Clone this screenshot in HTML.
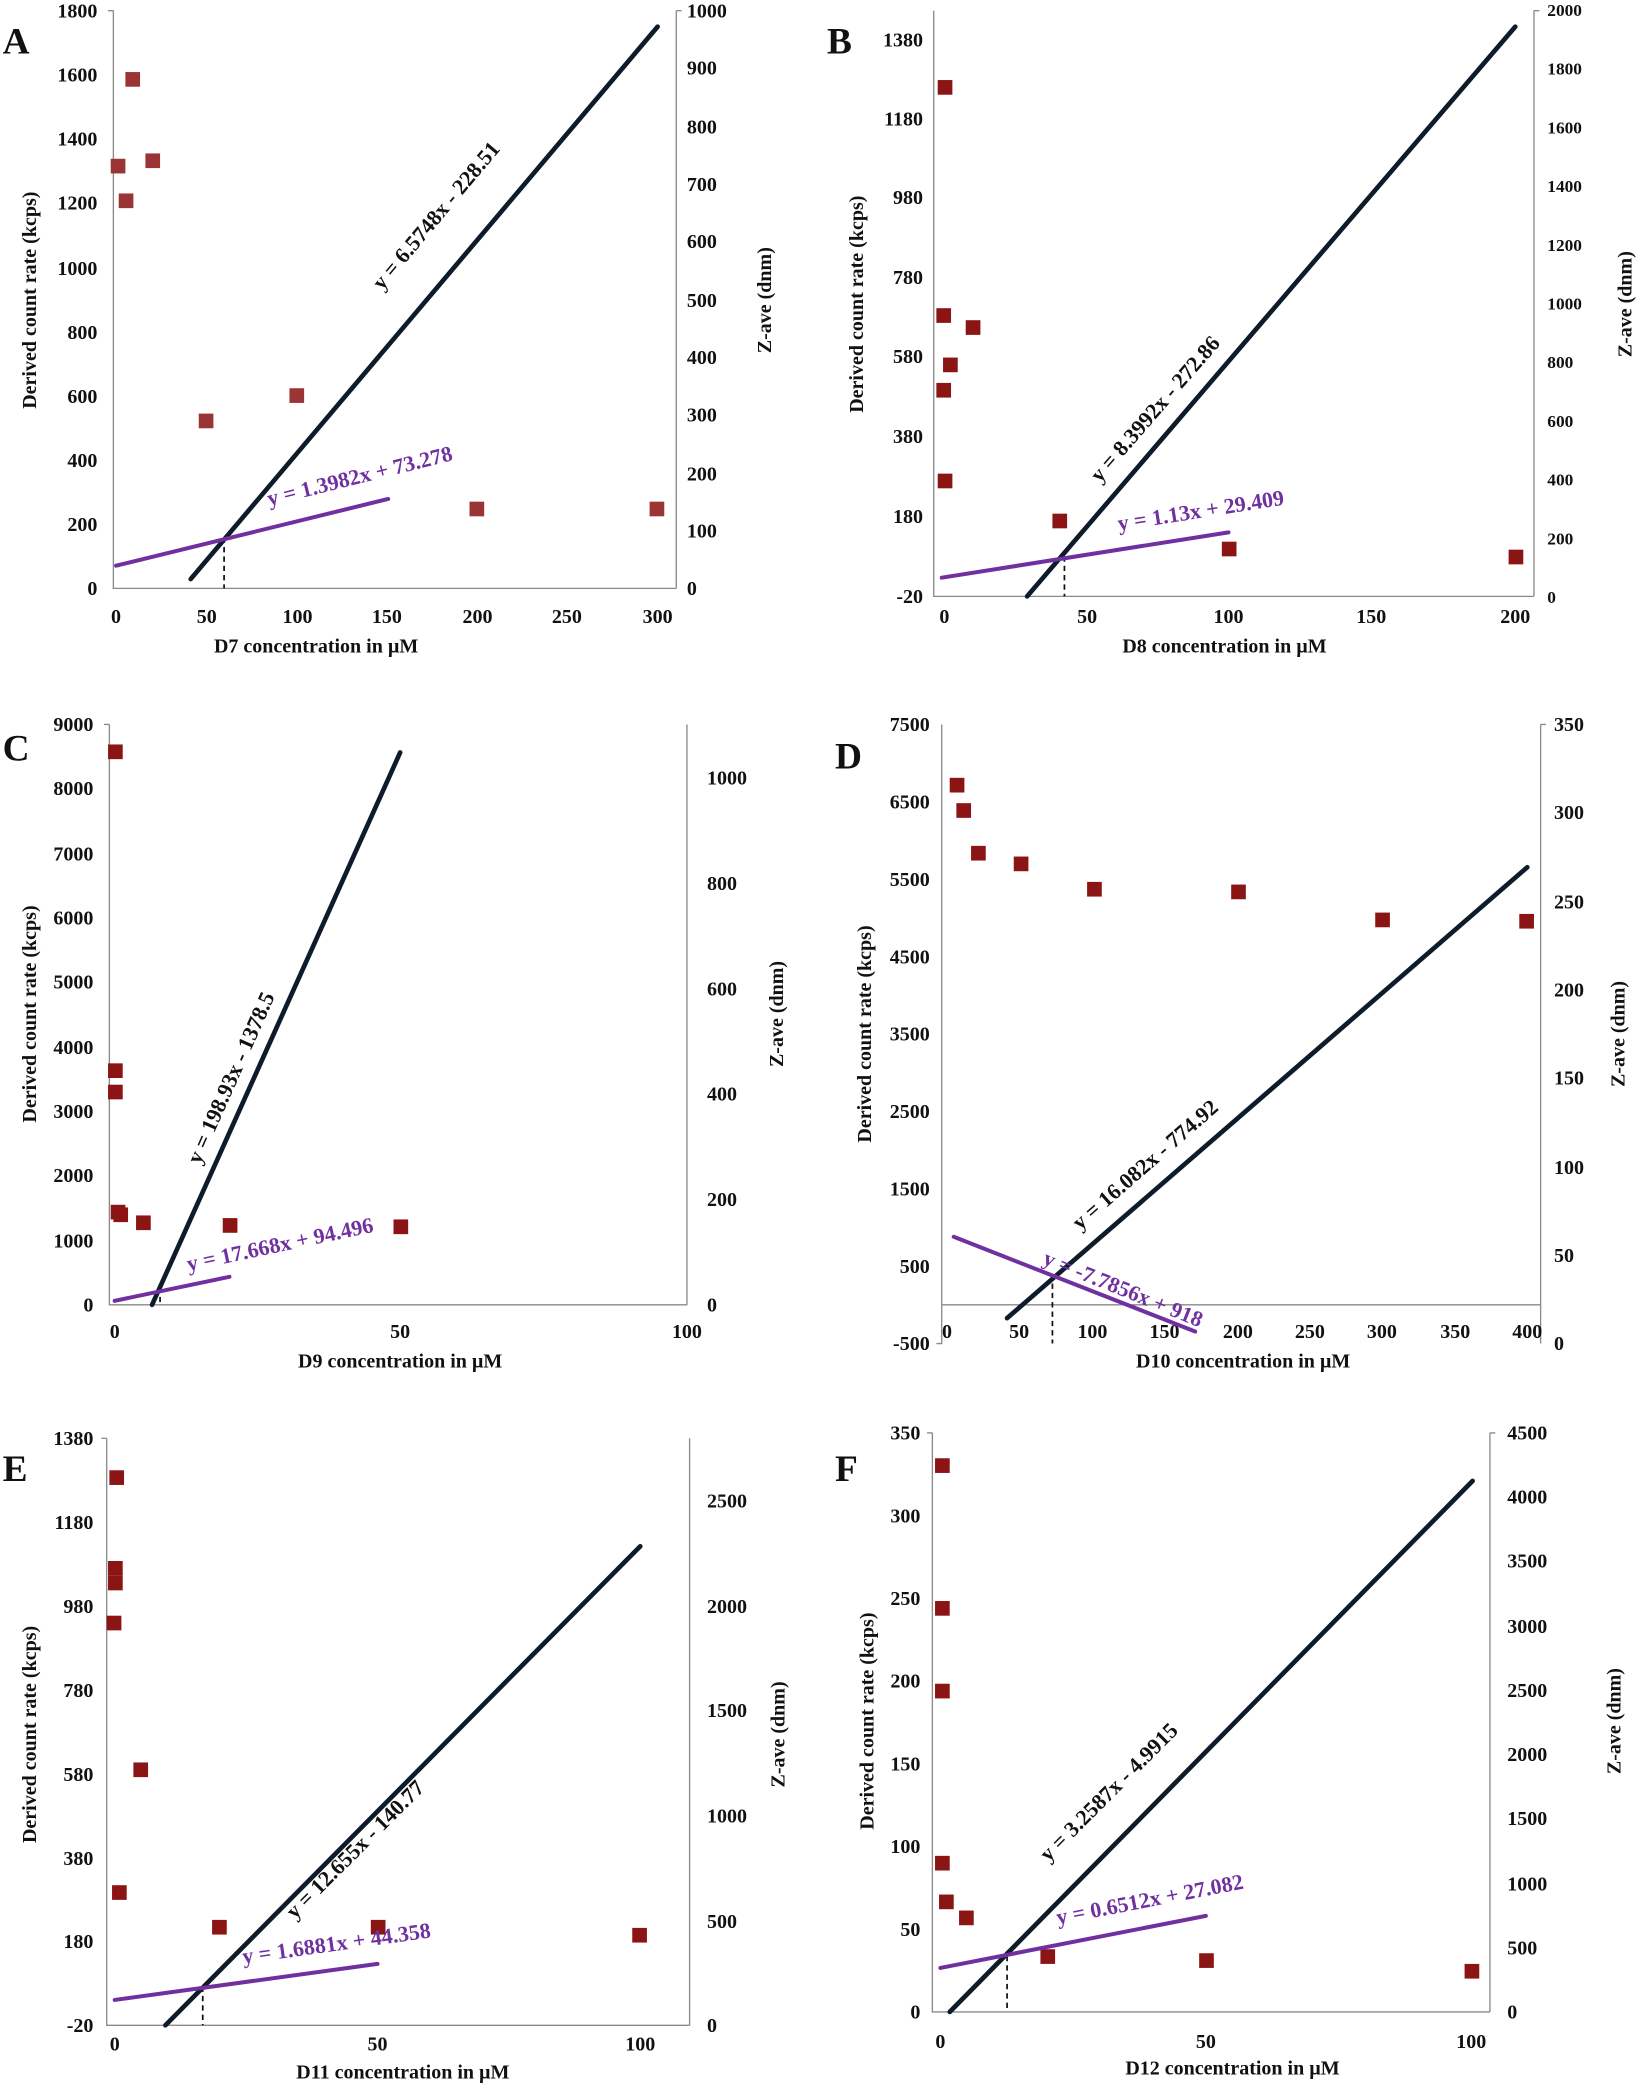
<!DOCTYPE html>
<html><head><meta charset="utf-8"><style>
html,body{margin:0;padding:0;background:#fff}
svg{display:block}
text{font-family:"Liberation Serif",serif;font-weight:bold;fill:#111}
.t{font-size:15px}
.e{font-size:16.5px}
.ax{stroke:#8a8a8a;stroke-width:1;fill:none}
.dk{stroke:#0d1b2a;stroke-width:3.5;stroke-linecap:round}
.pu{stroke:#7030a0;stroke-width:3;stroke-linecap:round}
.ds{stroke:#111;stroke-width:1.3;stroke-dasharray:4,3}
.sq{fill:#8b1414}
.pt{fill:#7030a0}
.lt{font-size:28px}
</style></head><body>
<svg width="1650" height="2096" viewBox="0 0 1237 1571" preserveAspectRatio="none" xmlns="http://www.w3.org/2000/svg">
<!-- Panel A -->
<text class="lt" x="2" y="40">A</text>
<path class="ax" d="M85 8V441H507M85 8h-4M507 8V441M507 8h4"/>
<g class="t" text-anchor="end">
<text x="73" y="13">1800</text><text x="73" y="61">1600</text><text x="73" y="109">1400</text><text x="73" y="157">1200</text><text x="73" y="206">1000</text><text x="73" y="254">800</text><text x="73" y="302">600</text><text x="73" y="350">400</text><text x="73" y="398">200</text><text x="73" y="446">0</text></g>
<g class="t" text-anchor="start">
<text x="515" y="13">1000</text><text x="515" y="56">900</text><text x="515" y="100">800</text><text x="515" y="143">700</text><text x="515" y="186">600</text><text x="515" y="230">500</text><text x="515" y="273">400</text><text x="515" y="316">300</text><text x="515" y="360">200</text><text x="515" y="403">100</text><text x="515" y="446">0</text></g>
<g class="t" text-anchor="middle">
<text x="87" y="467">0</text><text x="155" y="467">50</text><text x="223" y="467">100</text><text x="290" y="467">150</text><text x="358" y="467">200</text><text x="425" y="467">250</text><text x="493" y="467">300</text>
<text x="237" y="489">D7 concentration in µM</text>
<text transform="translate(27,225) rotate(-90)">Derived count rate (kcps)</text>
<text transform="translate(578,225) rotate(-90)">Z-ave (dnm)</text></g>
<g><rect x="83" y="119" width="11" height="11" fill="#9b3535"/><rect x="89" y="145" width="11" height="11" fill="#9b3535"/><rect x="94" y="54" width="11" height="11" fill="#9b3535"/><rect x="109" y="115" width="11" height="11" fill="#9b3535"/><rect x="149" y="310" width="11" height="11" fill="#9b3535"/><rect x="217" y="291" width="11" height="11" fill="#9b3535"/><rect x="352" y="376" width="11" height="11" fill="#9b3535"/><rect x="487" y="376" width="11" height="11" fill="#9b3535"/></g>
<line class="ds" x1="168" y1="403" x2="168" y2="441"/>
<line class="dk" x1="143" y1="434" x2="493" y2="20"/>
<line class="pu" x1="87" y1="424" x2="291" y2="374"/>
<text class="e" transform="translate(331,165) rotate(-50)" text-anchor="middle">y = 6.5748x - 228.51</text>
<text class="e pt" transform="translate(271,362) rotate(-14)" text-anchor="middle">y = 1.3982x + 73.278</text>

<!-- Panel B -->
<text class="lt" x="620" y="40">B</text>
<path class="ax" d="M700 8V447H1150M1150 8V447M1150 8h4"/>
<g class="t" text-anchor="end">
<text x="692" y="35">1380</text><text x="692" y="94">1180</text><text x="692" y="153">980</text><text x="692" y="213">780</text><text x="692" y="272">580</text><text x="692" y="332">380</text><text x="692" y="392">180</text><text x="692" y="452">-20</text></g>
<g class="t" text-anchor="start" style="font-size:13px">
<text x="1160" y="12">2000</text><text x="1160" y="56">1800</text><text x="1160" y="100">1600</text><text x="1160" y="144">1400</text><text x="1160" y="188">1200</text><text x="1160" y="232">1000</text><text x="1160" y="276">800</text><text x="1160" y="320">600</text><text x="1160" y="364">400</text><text x="1160" y="408">200</text><text x="1160" y="452">0</text></g>
<g class="t" text-anchor="middle">
<text x="708" y="467">0</text><text x="815" y="467">50</text><text x="921" y="467">100</text><text x="1028" y="467">150</text><text x="1136" y="467">200</text>
<text x="918" y="489">D8 concentration in µM</text>
<text transform="translate(647,228) rotate(-90)">Derived count rate (kcps)</text>
<text transform="translate(1223,228) rotate(-90)">Z-ave (dnm)</text></g>
<g class="sq"><rect x="703" y="60" width="11" height="11"/><rect x="702" y="231" width="11" height="11"/><rect x="707" y="268" width="11" height="11"/><rect x="702" y="287" width="11" height="11"/><rect x="703" y="355" width="11" height="11"/><rect x="724" y="240" width="11" height="11"/><rect x="789" y="385" width="11" height="11"/><rect x="916" y="406" width="11" height="11"/><rect x="1131" y="412" width="11" height="11"/></g>
<line class="ds" x1="798" y1="417" x2="798" y2="447"/>
<line class="dk" x1="770" y1="447" x2="1136" y2="20"/>
<line class="pu" x1="706" y1="433" x2="921" y2="399"/>
<text class="e" transform="translate(870,310) rotate(-49)" text-anchor="middle">y = 8.3992x - 272.86</text>
<text class="e pt" transform="translate(901,388) rotate(-9)" text-anchor="middle">y = 1.13x + 29.409</text>

<!-- Panel C -->
<text class="lt" x="2" y="570">C</text>
<path class="ax" d="M82 543V978H515M82 543h-4M515 543V978"/>
<g class="t" text-anchor="end">
<text x="70" y="548">9000</text><text x="70" y="596">8000</text><text x="70" y="645">7000</text><text x="70" y="693">6000</text><text x="70" y="741">5000</text><text x="70" y="790">4000</text><text x="70" y="838">3000</text><text x="70" y="886">2000</text><text x="70" y="935">1000</text><text x="70" y="983">0</text></g>
<g class="t" text-anchor="start">
<text x="530" y="588">1000</text><text x="530" y="667">800</text><text x="530" y="746">600</text><text x="530" y="825">400</text><text x="530" y="904">200</text><text x="530" y="983">0</text></g>
<g class="t" text-anchor="middle">
<text x="86" y="1003">0</text><text x="300" y="1003">50</text><text x="515" y="1003">100</text>
<text x="300" y="1025">D9 concentration in µM</text>
<text transform="translate(27,760) rotate(-90)">Derived count rate (kcps)</text>
<text transform="translate(587,760) rotate(-90)">Z-ave (dnm)</text></g>
<g class="sq"><rect x="81" y="558" width="11" height="11"/><rect x="81" y="797" width="11" height="11"/><rect x="81" y="813" width="11" height="11"/><rect x="83" y="903" width="11" height="11"/><rect x="85" y="905" width="11" height="11"/><rect x="102" y="911" width="11" height="11"/><rect x="167" y="913" width="11" height="11"/><rect x="295" y="914" width="11" height="11"/></g>
<line class="ds" x1="120" y1="965" x2="120" y2="978"/>
<line class="dk" x1="114" y1="978" x2="300" y2="564"/>
<line class="pu" x1="86" y1="975" x2="172" y2="957"/>
<text class="e" transform="translate(178,810) rotate(-66)" text-anchor="middle">y = 198.93x - 1378.5</text>
<text class="e pt" transform="translate(211,938) rotate(-12)" text-anchor="middle">y = 17.668x + 94.496</text>

<!-- Panel D -->
<text class="lt" x="626" y="576">D</text>
<path class="ax" d="M706 543V1007h-4M706 978H1155M1155 543V1007M1155 543h4"/>
<g class="t" text-anchor="end">
<text x="697" y="548">7500</text><text x="697" y="606">6500</text><text x="697" y="664">5500</text><text x="697" y="722">4500</text><text x="697" y="780">3500</text><text x="697" y="838">2500</text><text x="697" y="896">1500</text><text x="697" y="954">500</text><text x="697" y="1012">-500</text></g>
<g class="t" text-anchor="start">
<text x="1165" y="548">350</text><text x="1165" y="614">300</text><text x="1165" y="681">250</text><text x="1165" y="747">200</text><text x="1165" y="813">150</text><text x="1165" y="880">100</text><text x="1165" y="946">50</text><text x="1165" y="1012">0</text></g>
<g class="t" text-anchor="middle">
<text x="710" y="1003">0</text><text x="764" y="1003">50</text><text x="819" y="1003">100</text><text x="873" y="1003">150</text><text x="928" y="1003">200</text><text x="982" y="1003">250</text><text x="1036" y="1003">300</text><text x="1091" y="1003">350</text><text x="1145" y="1003">400</text>
<text x="932" y="1025">D10 concentration in µM</text>
<text transform="translate(653,775) rotate(-90)">Derived count rate (kcps)</text>
<text transform="translate(1218,775) rotate(-90)">Z-ave (dnm)</text></g>
<g class="sq"><rect x="712" y="583" width="11" height="11"/><rect x="717" y="602" width="11" height="11"/><rect x="728" y="634" width="11" height="11"/><rect x="760" y="642" width="11" height="11"/><rect x="815" y="661" width="11" height="11"/><rect x="923" y="663" width="11" height="11"/><rect x="1031" y="684" width="11" height="11"/><rect x="1139" y="685" width="11" height="11"/></g>
<line class="ds" x1="789" y1="955" x2="789" y2="1007"/>
<line class="dk" x1="755" y1="988" x2="1145" y2="650"/>
<line class="pu" x1="715" y1="927" x2="896" y2="998"/>
<text class="e" transform="translate(862,877) rotate(-41)" text-anchor="middle">y = 16.082x - 774.92</text>
<text class="e pt" transform="translate(840,971) rotate(22)" text-anchor="middle">y = -7.7856x + 918</text>

<!-- Panel E -->
<text class="lt" x="2" y="1110">E</text>
<path class="ax" d="M80 1078V1518H517M80 1078h-4M517 1078V1518"/>
<g class="t" text-anchor="end">
<text x="70" y="1083">1380</text><text x="70" y="1146">1180</text><text x="70" y="1209">980</text><text x="70" y="1272">780</text><text x="70" y="1335">580</text><text x="70" y="1398">380</text><text x="70" y="1460">180</text><text x="70" y="1523">-20</text></g>
<g class="t" text-anchor="start">
<text x="530" y="1130">2500</text><text x="530" y="1209">2000</text><text x="530" y="1287">1500</text><text x="530" y="1366">1000</text><text x="530" y="1445">500</text><text x="530" y="1523">0</text></g>
<g class="t" text-anchor="middle">
<text x="86" y="1537">0</text><text x="283" y="1537">50</text><text x="480" y="1537">100</text>
<text x="302" y="1558">D11 concentration in µM</text>
<text transform="translate(27,1300) rotate(-90)">Derived count rate (kcps)</text>
<text transform="translate(588,1300) rotate(-90)">Z-ave (dnm)</text></g>
<g class="sq"><rect x="82" y="1102" width="11" height="11"/><rect x="81" y="1170" width="11" height="11"/><rect x="81" y="1181" width="11" height="11"/><rect x="80" y="1211" width="11" height="11"/><rect x="100" y="1321" width="11" height="11"/><rect x="84" y="1413" width="11" height="11"/><rect x="159" y="1439" width="11" height="11"/><rect x="278" y="1439" width="11" height="11"/><rect x="474" y="1445" width="11" height="11"/></g>
<line class="ds" x1="152" y1="1489" x2="152" y2="1518"/>
<line class="dk" x1="124" y1="1518" x2="480" y2="1159"/>
<line class="pu" x1="86" y1="1499" x2="283" y2="1472"/>
<text class="e" transform="translate(270,1390) rotate(-45)" text-anchor="middle">y = 12.655x - 140.77</text>
<text class="e pt" transform="translate(253,1462) rotate(-8)" text-anchor="middle">y = 1.6881x + 44.358</text>

<!-- Panel F -->
<text class="lt" x="626" y="1110">F</text>
<path class="ax" d="M699 1074V1508H1117M699 1074h-4M1117 1074V1508M1117 1074h4"/>
<g class="t" text-anchor="end">
<text x="690" y="1079">350</text><text x="690" y="1141">300</text><text x="690" y="1203">250</text><text x="690" y="1265">200</text><text x="690" y="1327">150</text><text x="690" y="1389">100</text><text x="690" y="1451">50</text><text x="690" y="1513">0</text></g>
<g class="t" text-anchor="start">
<text x="1130" y="1079">4500</text><text x="1130" y="1127">4000</text><text x="1130" y="1175">3500</text><text x="1130" y="1224">3000</text><text x="1130" y="1272">2500</text><text x="1130" y="1320">2000</text><text x="1130" y="1368">1500</text><text x="1130" y="1417">1000</text><text x="1130" y="1465">500</text><text x="1130" y="1513">0</text></g>
<g class="t" text-anchor="middle">
<text x="705" y="1535">0</text><text x="904" y="1535">50</text><text x="1103" y="1535">100</text>
<text x="924" y="1555">D12 concentration in µM</text>
<text transform="translate(655,1290) rotate(-90)">Derived count rate (kcps)</text>
<text transform="translate(1215,1290) rotate(-90)">Z-ave (dnm)</text></g>
<g class="sq"><rect x="701" y="1093" width="11" height="11"/><rect x="701" y="1200" width="11" height="11"/><rect x="701" y="1262" width="11" height="11"/><rect x="701" y="1391" width="11" height="11"/><rect x="704" y="1420" width="11" height="11"/><rect x="719" y="1432" width="11" height="11"/><rect x="780" y="1461" width="11" height="11"/><rect x="899" y="1464" width="11" height="11"/><rect x="1098" y="1472" width="11" height="11"/></g>
<line class="ds" x1="755" y1="1466" x2="755" y2="1508"/>
<line class="dk" x1="712" y1="1508" x2="1104" y2="1110"/>
<line class="pu" x1="705" y1="1475" x2="904" y2="1436"/>
<text class="e" transform="translate(835,1347) rotate(-45)" text-anchor="middle">y = 3.2587x - 4.9915</text>
<text class="e pt" transform="translate(863,1429) rotate(-11)" text-anchor="middle">y = 0.6512x + 27.082</text>
</svg>
</body></html>
